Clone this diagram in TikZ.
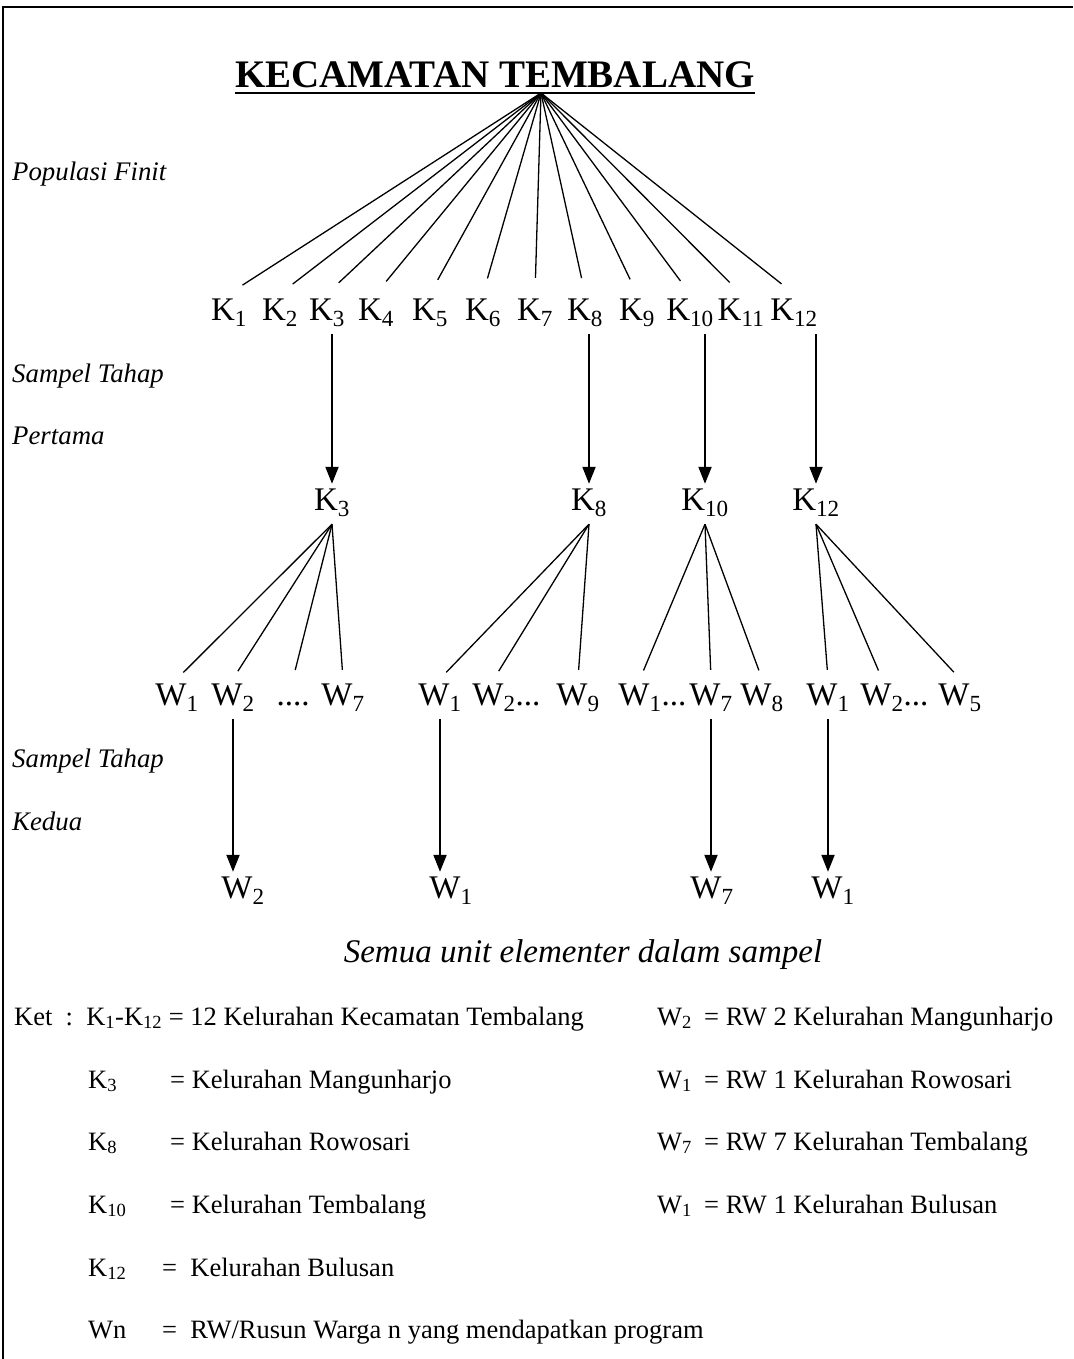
\documentclass[tikz,border=0pt]{standalone}
\usepackage{fontspec}
\setmainfont{Liberation Serif}
\usetikzlibrary{arrows.meta}
\tikzstyle{TitleNode}=[font=\fontsize{39}{46}\selectfont\bfseries, inner sep=0pt, anchor=base]
\tikzstyle{KelNode}=[font=\fontsize{33}{40}\selectfont, inner sep=4pt, text height=22pt, text depth=10pt, anchor=base]
\tikzstyle{StageNote}=[font=\fontsize{26.8}{32}\selectfont\itshape, inner sep=0pt, anchor=base west]
\tikzstyle{SumNote}=[font=\fontsize{33}{40}\selectfont\itshape, inner sep=0pt, anchor=base]
\tikzstyle{KetNode}=[font=\fontsize{26.5}{32}\selectfont, inner sep=0pt, anchor=base west]
\tikzstyle{FanEdge}=[line width=1.3pt]
\tikzstyle{TopFanEdge}=[FanEdge, shorten >=16pt]
\tikzstyle{RwFanEdge}=[FanEdge, shorten >=9pt]
\tikzstyle{PickEdge}=[->, line width=2pt]
\tikzstyle{FrameLine}=[line width=2.5pt]
\tikzset{>={Triangle[length=17pt,width=13pt]}}

\begin{document}
\begin{tikzpicture}[x=1pt,y=-1pt]
\useasboundingbox (0,0) rectangle (1073,1359);
\draw[FrameLine] (3,1359) -- (3,7) -- (1073,7);

\node[TitleNode](KEC) at (495,88) {KECAMATAN TEMBALANG};
\draw[line width=2.5pt] ([yshift=-5pt]KEC.base west) -- ([yshift=-5pt]KEC.base east);
\coordinate (APEX) at (541,93);

\node[KelNode](K1) at (229,320) {K\textsubscript{1}};
\node[KelNode](K2) at (280,320) {K\textsubscript{2}};
\node[KelNode](K3) at (327,320) {K\textsubscript{3}};
\node[KelNode](K4) at (376,320) {K\textsubscript{4}};
\node[KelNode](K5) at (430,320) {K\textsubscript{5}};
\node[KelNode](K6) at (483,320) {K\textsubscript{6}};
\node[KelNode](K7) at (535,320) {K\textsubscript{7}};
\node[KelNode](K8) at (585,320) {K\textsubscript{8}};
\node[KelNode](K9) at (637,320) {K\textsubscript{9}};
\node[KelNode](K10) at (690,320) {K\textsubscript{10}};
\node[KelNode](K11) at (741,320) {K\textsubscript{11}};
\node[KelNode](K12) at (794,320) {K\textsubscript{12}};

\draw[TopFanEdge](APEX) -- (K1.north);
\draw[TopFanEdge](APEX) -- (K2.north);
\draw[TopFanEdge](APEX) -- (K3.north);
\draw[TopFanEdge](APEX) -- (K4.north);
\draw[TopFanEdge](APEX) -- (K5.north);
\draw[TopFanEdge](APEX) -- (K6.north);
\draw[TopFanEdge](APEX) -- (K7.north);
\draw[TopFanEdge](APEX) -- (K8.north);
\draw[TopFanEdge](APEX) -- (K9.north);
\draw[TopFanEdge](APEX) -- (K10.north);
\draw[TopFanEdge](APEX) -- (K11.north);
\draw[TopFanEdge](APEX) -- (K12.north);

\node[KelNode](S3) at (332,510) {K\textsubscript{3}};
\node[KelNode](S8) at (589,510) {K\textsubscript{8}};
\node[KelNode](S10) at (705,510) {K\textsubscript{10}};
\node[KelNode](S12) at (816,510) {K\textsubscript{12}};

\draw[PickEdge](S3.north |- K3.south) -- (S3.north);
\draw[PickEdge](S8.north |- K8.south) -- (S8.north);
\draw[PickEdge](S10.north |- K10.south) -- (S10.north);
\draw[PickEdge](S12.north |- K12.south) -- (S12.north);

\node[KelNode](W31) at (177,705) {W\textsubscript{1}};
\node[KelNode](W32) at (233,705) {W\textsubscript{2}};
\node[KelNode](W3D) at (293,705) {....};
\node[KelNode](W37) at (343,705) {W\textsubscript{7}};
\node[KelNode](W81) at (440,705) {W\textsubscript{1}};
\node[KelNode](W82) at (494,705) {W\textsubscript{2}\rlap{...}};
\node[KelNode](W89) at (578,705) {W\textsubscript{9}};
\node[KelNode](W101) at (640,705) {W\textsubscript{1}\rlap{...}};
\node[KelNode](W107) at (711,705) {W\textsubscript{7}};
\node[KelNode](W108) at (762,705) {W\textsubscript{8}};
\node[KelNode](W121) at (828,705) {W\textsubscript{1}};
\node[KelNode](W122) at (882,705) {W\textsubscript{2}\rlap{...}};
\node[KelNode](W125) at (960,705) {W\textsubscript{5}};

\draw[RwFanEdge](S3.south) -- (W31.north);
\draw[RwFanEdge](S3.south) -- (W32.north);
\draw[RwFanEdge](S3.south) -- (W3D.north);
\draw[RwFanEdge](S3.south) -- (W37.north);
\draw[RwFanEdge](S8.south) -- (W81.north);
\draw[RwFanEdge](S8.south) -- (W82.north);
\draw[RwFanEdge](S8.south) -- (W89.north);
\draw[RwFanEdge](S10.south) -- (W101.north);
\draw[RwFanEdge](S10.south) -- (W107.north);
\draw[RwFanEdge](S10.south) -- (W108.north);
\draw[RwFanEdge](S12.south) -- (W121.north);
\draw[RwFanEdge](S12.south) -- (W122.north);
\draw[RwFanEdge](S12.south) -- (W125.north);

\node[KelNode](B2) at (243,898) {W\textsubscript{2}};
\node[KelNode](B1) at (451,898) {W\textsubscript{1}};
\node[KelNode](B7) at (712,898) {W\textsubscript{7}};
\node[KelNode](B1B) at (833,898) {W\textsubscript{1}};

\draw[PickEdge](W32.south) -- (W32.south |- B2.north);
\draw[PickEdge](W81.south) -- (W81.south |- B1.north);
\draw[PickEdge](W107.south) -- (W107.south |- B7.north);
\draw[PickEdge](W121.south) -- (W121.south |- B1B.north);

\node[StageNote](POP) at (12,181) {Populasi Finit};
\node[StageNote](ST1) at (12,382) {Sampel Tahap};
\node[StageNote](ST1B) at (12,444) {Pertama};
\node[StageNote](ST2) at (12,767) {Sampel Tahap};
\node[StageNote](ST2B) at (12,830) {Kedua};
\node[SumNote](SEMUA) at (583,962) {Semua unit elementer dalam sampel};

\node[KetNode](KET) at (14,1025) {Ket\ \ :\ \ K\textsubscript{1}-K\textsubscript{12} = 12 Kelurahan Kecamatan Tembalang};
\node[KetNode](KK3) at (88,1088) {K\textsubscript{3}};
\node[KetNode](KK3T) at (170,1088) {= Kelurahan Mangunharjo};
\node[KetNode](KK8) at (88,1150) {K\textsubscript{8}};
\node[KetNode](KK8T) at (170,1150) {= Kelurahan Rowosari};
\node[KetNode](KK10) at (88,1213) {K\textsubscript{10}};
\node[KetNode](KK10T) at (170,1213) {= Kelurahan Tembalang};
\node[KetNode](KK12) at (88,1276) {K\textsubscript{12}};
\node[KetNode](KK12T) at (162,1276) {=\ \ Kelurahan Bulusan};
\node[KetNode](KWN) at (88,1338) {Wn};
\node[KetNode](KWNT) at (162,1338) {=\ \ RW/Rusun Warga n yang mendapatkan program};

\node[KetNode](KW2) at (657,1025) {W\textsubscript{2}};
\node[KetNode](KW2T) at (704,1025) {= RW 2 Kelurahan Mangunharjo};
\node[KetNode](KW1) at (657,1088) {W\textsubscript{1}};
\node[KetNode](KW1T) at (704,1088) {= RW 1 Kelurahan Rowosari};
\node[KetNode](KW7) at (657,1150) {W\textsubscript{7}};
\node[KetNode](KW7T) at (704,1150) {= RW 7 Kelurahan Tembalang};
\node[KetNode](KW1B) at (657,1213) {W\textsubscript{1}};
\node[KetNode](KW1BT) at (704,1213) {= RW 1 Kelurahan Bulusan};
\end{tikzpicture}
\end{document}
